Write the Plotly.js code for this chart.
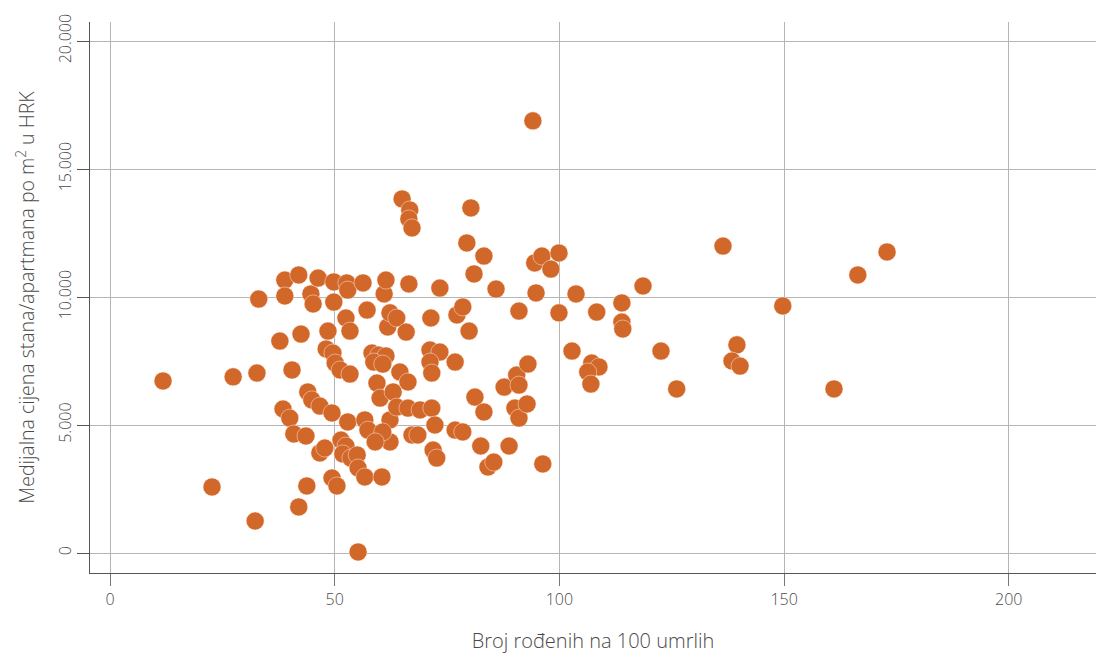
<!DOCTYPE html>
<html>
<head>
<meta charset="utf-8">
<script src="https://cdn.plot.ly/plotly-3.0.1.min.js"></script>
<style>html,body{margin:0;padding:0;background:#fff}#chart{width:1096px;height:654px}</style>
</head>
<body>
<div id="chart"></div>
<script>
// Births per 100 deaths (x) and median price per m2 in HRK (y)
const birthsPer100Deaths = [
  11.8, 22.7, 27.4, 32.3, 32.7, 33.1, 37.8, 38.5, 38.9, 38.9, 40.0, 40.5, 40.9, 42.0, 42.5, 42.0, 43.8, 43.6, 44.0, 44.9,
  44.7, 45.2, 46.3, 46.7, 46.7, 47.8, 48.1, 48.5,
  49.4, 49.6, 50.1, 49.4, 50.5, 49.8, 49.8, 51.2, 51.4, 52.5, 51.8, 52.7, 52.9, 52.5, 53.4, 53.4, 52.9, 53.6, 55.0, 55.2,
  55.2, 56.3, 56.7, 57.2, 57.4, 56.7,
  58.3, 59.8, 61.4, 58.7, 60.7, 59.4, 60.1, 60.5, 61.0, 61.4, 61.8, 62.3, 62.3, 62.3, 60.7, 59.0, 63.0, 63.8, 63.8,
  65.0, 66.7, 66.5, 67.2, 64.5, 66.3, 65.9, 66.5, 66.3, 67.2, 68.5, 69.0, 71.6, 71.4, 71.2, 73.4, 71.2, 71.6, 72.3,
  71.9, 72.7, 73.4,
  76.8, 77.2, 78.5, 79.9, 76.8, 78.5, 79.4, 80.3, 81.0, 81.2, 82.5, 83.2, 83.2, 84.1, 85.4, 85.9,
  87.7, 88.8, 90.1, 90.5, 91.0, 91.0, 91.0, 92.8, 93.0, 94.1, 94.5, 94.8, 96.1, 96.3, 98.1, 99.9, 99.9,
  102.8, 103.7, 107.2, 108.8, 106.3, 107.0, 108.3, 113.9, 113.9, 114.1, 118.6, 122.6, 126.1, 136.4, 139.5, 138.4,
  140.2, 149.7, 161.1, 166.4, 172.9
];
const medianPricePerM2 = [
  6720, 2580, 6880, 1250, 7030, 9920, 8280, 5625, 10660, 10040, 5270, 7150, 4650, 10860, 8550, 1800, 2620, 4570, 6290, 5980,
  10120, 9730, 10740, 5740, 3910, 4100, 7970, 8670,
  5470, 7810, 7420, 2930, 2620, 10590, 9800, 7150, 4410, 4180, 3870, 10550, 10270, 9180, 8670, 6990, 5120, 3710, 3830, 3320,
  40, 10550, 5200, 9490, 4800, 2970,
  7810, 7730, 7700, 7460, 7380, 6640, 6050, 2970, 10120, 10660, 8830, 9380, 5200, 4340, 4730, 4340, 6290, 9180, 5700,
  13830, 13400, 13050, 12700, 7070, 6680, 8630, 10510, 5660, 4610, 4610, 5590, 5660, 9180, 7930, 7850, 7460, 7030, 5000,
  4020, 3710, 10350,
  7460, 9300, 9610, 8670, 4800, 4730, 12110, 13480, 10900, 6090, 4180, 11600, 5510, 3360, 3550, 10310,
  6480, 4180, 5660, 6950, 6560, 9450, 5270, 5820, 7380, 16880, 11330, 10160, 11600, 3480, 11090, 11720, 9380,
  7890, 10120, 7420, 7270, 7070, 6600, 9410, 9770, 9020, 8750, 10430, 7890, 6410, 11990, 8130, 7500,
  7300, 9650, 6410, 10860, 11760
];
const xTicks = [0, 50, 100, 150, 200];
const yTicks = [0, 5000, 10000, 15000, 20000];

const fontFam = '"Open Sans", Lato, sans-serif';
const textColor = '#4a4a4a';
const trace = {
  type: 'scatter',
  mode: 'markers',
  x: birthsPer100Deaths,
  y: medianPricePerM2,
  marker: { size: 18, color: '#d2672a', line: { width: 0.6, color: 'rgba(255,240,230,0.8)' } },
  hoverinfo: 'x+y'
};
const layout = {
  width: 1096, height: 654,
  margin: { l: 90, r: 0, t: 22, b: 81, pad: 0 },
  paper_bgcolor: '#ffffff', plot_bgcolor: '#ffffff',
  separators: ',.',
  showlegend: false,
  font: { family: fontFam, color: textColor, size: 16, weight: 300 },
  xaxis: {
    range: [-4.45, 219.4],
    tickvals: xTicks,
    ticktext: xTicks.map(String),
    showgrid: true, gridcolor: '#b5b5b5', gridwidth: 1,
    zeroline: false,
    showline: true, linecolor: '#555555', linewidth: 1,
    ticks: 'outside', ticklen: 12, tickcolor: '#777777', tickwidth: 1,
    tickfont: { family: fontFam, size: 16, color: textColor, weight: 300 },
    title: { text: 'Broj rođenih na 100 umrlih', font: { family: fontFam, size: 20, color: textColor, weight: 300 }, standoff: 24 }
  },
  yaxis: {
    range: [-781, 20742],
    tickvals: yTicks,
    showgrid: true, gridcolor: '#b5b5b5', gridwidth: 1,
    zeroline: false,
    showline: true, linecolor: '#555555', linewidth: 1,
    ticks: 'outside', ticklen: 12, tickcolor: '#555555', tickwidth: 1,
    tickangle: -90,
    tickformat: ',d',
    tickfont: { family: fontFam, size: 16, color: textColor, weight: 300 },
    title: { text: 'Medijalna cijena stana/apartmana po m<sup>2</sup> u HRK', font: { family: fontFam, size: 19.5, color: textColor, weight: 300 }, standoff: 13 }
  }
};
Plotly.newPlot('chart', [trace], layout, { displayModeBar: false, staticPlot: true });
</script>
</body>
</html>
